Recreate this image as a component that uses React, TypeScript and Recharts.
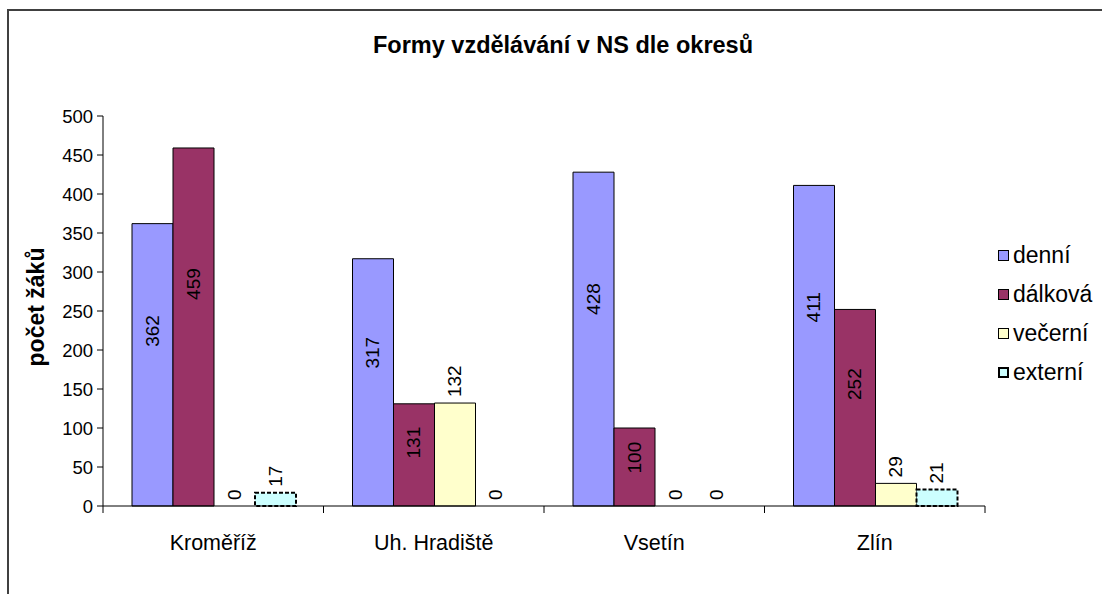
import React from 'react';
import { BarChart, Bar, XAxis, YAxis, Legend, LabelList, Cell } from 'recharts';

const categories = ['Kroměříž', 'Uh. Hradiště', 'Vsetín', 'Zlín'];
const denni = [362, 317, 428, 411];
const dalkova = [459, 131, 100, 252];
const vecerni = [0, 132, 0, 29];
const externi = [17, 0, 0, 21];
const yTicks = [0, 50, 100, 150, 200, 250, 300, 350, 400, 450, 500];

const seriesNames = ['denní', 'dálková', 'večerní', 'externí'];
const seriesColors = ['#9999FF', '#993366', '#FFFFCC', '#CCFFFF'];

const data = categories.map((c, i) => ({
  name: c,
  denni: denni[i],
  dalkova: dalkova[i],
  vecerni: vecerni[i],
  externi: externi[i],
}));

const FONT = '"Liberation Sans", Arial, sans-serif';

const InsideLabel = (props: any) => {
  const { x, y, width, height, value } = props;
  const cx = x + width / 2;
  const cy = y + height * 0.38;
  return (
    <text
      x={cx}
      y={cy}
      transform={`rotate(-90, ${cx}, ${cy})`}
      textAnchor="middle"
      dominantBaseline="central"
      fontSize={19}
      fontFamily={FONT}
      fill="#000"
    >
      {value}
    </text>
  );
};

const OutsideLabel = (props: any) => {
  const { x, y, width, index, values } = props;
  const v = props.value !== undefined && props.value !== null ? props.value : values[index];
  const cx = x + width / 2;
  const cy = y - 6;
  return (
    <text
      x={cx}
      y={cy}
      transform={`rotate(-90, ${cx}, ${cy})`}
      textAnchor="start"
      dominantBaseline="central"
      fontSize={19}
      fontFamily={FONT}
      fill="#000"
    >
      {String(v)}
    </text>
  );
};

const CategoryTick = (props: any) => {
  const { x, y, payload, index } = props;
  const off = payload.offset || 0;
  const last = index === categories.length - 1;
  return (
    <g>
      <line x1={x - off} y1={y} x2={x - off} y2={y + 7} stroke="#000" />
      {last && <line x1={x + off} y1={y} x2={x + off} y2={y + 7} stroke="#000" />}
      <text x={x} y={y + 44} textAnchor="middle" fontSize={21.5} fontFamily={FONT} fill="#000">
        {payload.value}
      </text>
    </g>
  );
};

const YLabel = (props: any) => {
  const vb = props.viewBox || {};
  const cx = (vb.x || 0) + 36;
  const cy = (vb.y || 0) + (vb.height || 0) / 2 - 4;
  return (
    <text
      x={cx}
      y={cy}
      transform={`rotate(-90, ${cx}, ${cy})`}
      textAnchor="middle"
      dominantBaseline="central"
      fontSize={23}
      fontWeight="bold"
      fontFamily={FONT}
      fill="#000"
    >
      počet žáků
    </text>
  );
};

const LegendContent = (props: any) => {
  const payload = [...(props.payload || [])].sort(
    (a: any, b: any) => seriesNames.indexOf(a.value) - seriesNames.indexOf(b.value)
  );
  return (
    <div style={{ fontFamily: FONT, fontSize: 23, color: '#000' }}>
      {payload.map((p: any, i: number) => (
        <div key={i} style={{ display: 'flex', alignItems: 'center', height: 39, whiteSpace: 'nowrap' }}>
          <span
            style={{
              display: 'inline-block',
              boxSizing: 'border-box',
              width: 11,
              height: 11,
              background: p.color,
              border: p.value === 'externí' ? '2px dashed #000' : '1px solid #000',
              marginRight: 4,
            }}
          />
          <span>{p.value}</span>
        </div>
      ))}
    </div>
  );
};

const zeroMin = (v: any) => (Number(v) === 0 ? 0.01 : 0);

export default function App() {
  return (
    <div
      style={{
        position: 'absolute',
        left: 0,
        top: 0,
        width: 1102,
        height: 594,
        overflow: 'hidden',
        background: '#fff',
      }}
    >
      <div
        style={{
          position: 'absolute',
          left: 7,
          top: 9,
          width: 2000,
          height: 2000,
          borderLeft: '2px solid #404040',
          borderTop: '2px solid #404040',
        }}
      />
      <div
        style={{
          position: 'absolute',
          left: 0,
          top: 30,
          width: 1126,
          textAlign: 'center',
          fontFamily: FONT,
          fontWeight: 'bold',
          fontSize: 23.5,
          lineHeight: '30px',
          color: '#000',
        }}
      >
        Formy vzdělávání v NS dle okresů
      </div>
      <div style={{ position: 'absolute', left: 0, top: 0 }}>
        <BarChart
          width={1102}
          height={594}
          data={data}
          margin={{ top: 116, right: 0, bottom: 0, left: 0 }}
          barCategoryGap={29}
          barGap={0}
        >
          <XAxis
            dataKey="name"
            axisLine={{ stroke: '#000' }}
            tickLine={false}
            tickSize={0}
            tickMargin={0}
            interval={0}
            tick={<CategoryTick />}
            height={88}
          />
          <YAxis
            width={103}
            domain={[0, 500]}
            ticks={yTicks}
            interval={0}
            axisLine={{ stroke: '#000' }}
            tickLine={{ stroke: '#000' }}
            tickSize={6}
            tickMargin={4}
            tick={{ fill: '#000', fontSize: 18.5, fontFamily: FONT }}
            label={<YLabel />}
          />
          <Legend
            layout="horizontal"
            verticalAlign="middle"
            align="right"
            wrapperStyle={{ left: 998, top: 236, width: 117 }}
            content={<LegendContent />}
          />
          <Bar dataKey="denni" name={seriesNames[0]} fill={seriesColors[0]} stroke="#000" strokeWidth={1} isAnimationActive={false}>
            <LabelList dataKey="denni" content={<InsideLabel />} />
          </Bar>
          <Bar dataKey="dalkova" name={seriesNames[1]} fill={seriesColors[1]} stroke="#000" strokeWidth={1} isAnimationActive={false}>
            <LabelList dataKey="dalkova" content={<InsideLabel />} />
          </Bar>
          <Bar
            dataKey="vecerni"
            name={seriesNames[2]}
            fill={seriesColors[2]}
            stroke="#000"
            strokeWidth={1}
            minPointSize={zeroMin}
            isAnimationActive={false}
          >
            {vecerni.map((v, i) => (
              <Cell key={i} fill={seriesColors[2]} stroke={v === 0 ? 'none' : '#000'} />
            ))}
            <LabelList dataKey="vecerni" content={<OutsideLabel values={vecerni} />} />
          </Bar>
          <Bar
            dataKey="externi"
            name={seriesNames[3]}
            fill={seriesColors[3]}
            stroke="#000"
            strokeWidth={2}
            strokeDasharray="4 2"
            minPointSize={zeroMin}
            isAnimationActive={false}
          >
            {externi.map((v, i) => (
              <Cell key={i} fill={seriesColors[3]} stroke={v === 0 ? 'none' : '#000'} />
            ))}
            <LabelList dataKey="externi" content={<OutsideLabel values={externi} />} />
          </Bar>
        </BarChart>
      </div>
    </div>
  );
}
